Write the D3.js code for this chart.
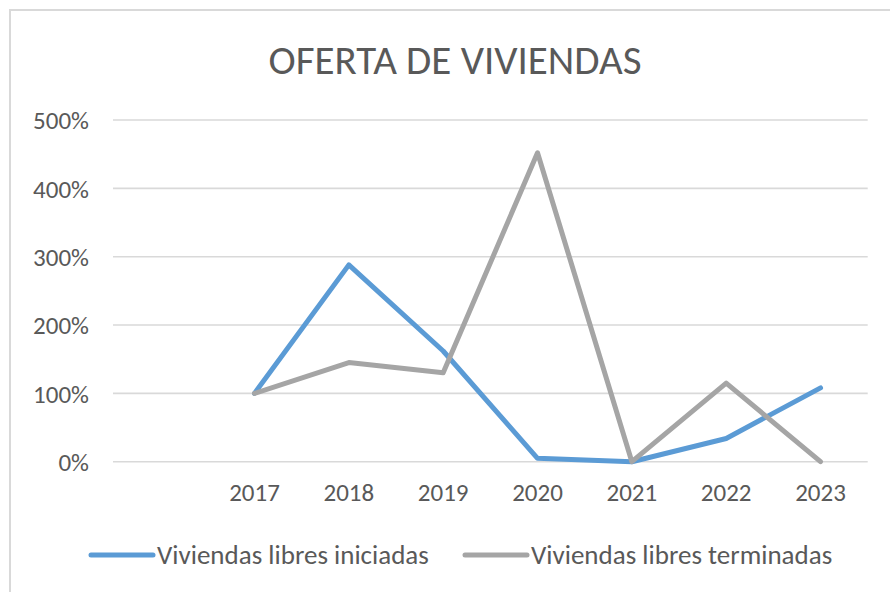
<!DOCTYPE html>
<html>
<head>
<meta charset="utf-8">
<script src="https://cdn.jsdelivr.net/npm/d3@7"></script>
<style>
  html, body { margin: 0; padding: 0; background: #fff; }
  svg { display: block; }
  text { font-family: Carlito, "Liberation Sans Narrow", "Open Sans", sans-serif; fill: #595959; }
</style>
</head>
<body>
<div id="chart"></div>
<script>
const years = ["", "2017", "2018", "2019", "2020", "2021", "2022", "2023"]
const iniciadas = [null, 1.00, 2.88, 1.62, 0.05, 0.00, 0.34, 1.08]
const terminadas = [null, 1.00, 1.45, 1.30, 4.52, 0.00, 1.15, 0.00]
const yTicks = [0, 1, 2, 3, 4, 5]
const seriesNames = ["Viviendas libres iniciadas", "Viviendas libres terminadas"]
const colors = ["#5b9bd5", "#a5a5a5"]

const W = 890, H = 592
const svg = d3.select("#chart").append("svg").attr("width", W).attr("height", H)

// outer chart frame (right and bottom edges fall outside the picture)
svg.append("rect")
	.attr("x", 10).attr("y", 10).attr("width", W + 20).attr("height", H + 20)
	.attr("fill", "#fff").attr("stroke", "#d9d9d9").attr("stroke-width", 2)

svg.append("text")
	.attr("x", 455).attr("y", 74)
	.attr("text-anchor", "middle")
	.style("font-size", "41px")
	.text("OFERTA DE VIVIENDAS")

const x = d3.scaleBand().domain(years.map((d, i) => i)).range([113, 867.7])
const y = d3.scaleLinear().domain([0, 5]).range([461.7, 120])

const grid = svg.append("g")
grid.selectAll("line").data(yTicks).enter().append("line")
	.attr("x1", 113).attr("x2", 867.7)
	.attr("y1", d => y(d)).attr("y2", d => y(d))
	.attr("stroke", "#d9d9d9").attr("stroke-width", 1.6)

const yAxis = d3.axisLeft(y).tickValues(yTicks).tickFormat(d => d * 100 + "%").tickSize(0).tickPadding(0)
svg.append("g").attr("transform", "translate(89,0)").call(yAxis)
	.call(g => g.select(".domain").remove())
	.selectAll("text").style("font-size", "25px").style("fill", "#595959").attr("dy", "0.35em")

const xAxis = d3.axisBottom(x).tickFormat(i => years[i]).tickSize(0).tickPadding(0)
svg.append("g").attr("transform", "translate(0,483)").call(xAxis)
	.call(g => g.select(".domain").remove())
	.selectAll("text").style("font-size", "25px").style("fill", "#595959")

const line = d3.line()
	.defined(d => d.v !== null)
	.x(d => x(d.i) + x.bandwidth() / 2)
	.y(d => y(d.v))

;[iniciadas, terminadas].forEach((vals, k) => {
	svg.append("path")
		.datum(vals.map((v, i) => ({ i: i, v: v })))
		.attr("d", line)
		.attr("fill", "none")
		.attr("stroke", colors[k])
		.attr("stroke-width", 5)
		.attr("stroke-linejoin", "round")
		.attr("stroke-linecap", "round")
})

// legend
const legendX = [91, 465]
const legend = svg.append("g")
seriesNames.forEach((name, k) => {
	legend.append("line")
		.attr("x1", legendX[k]).attr("x2", legendX[k] + 62)
		.attr("y1", 555).attr("y2", 555)
		.attr("stroke", colors[k]).attr("stroke-width", 5).attr("stroke-linecap", "round")
	legend.append("text")
		.attr("x", legendX[k] + 66).attr("y", 555).attr("dy", "0.35em")
		.style("font-size", "27px")
		.text(name)
})
</script>
</body>
</html>
